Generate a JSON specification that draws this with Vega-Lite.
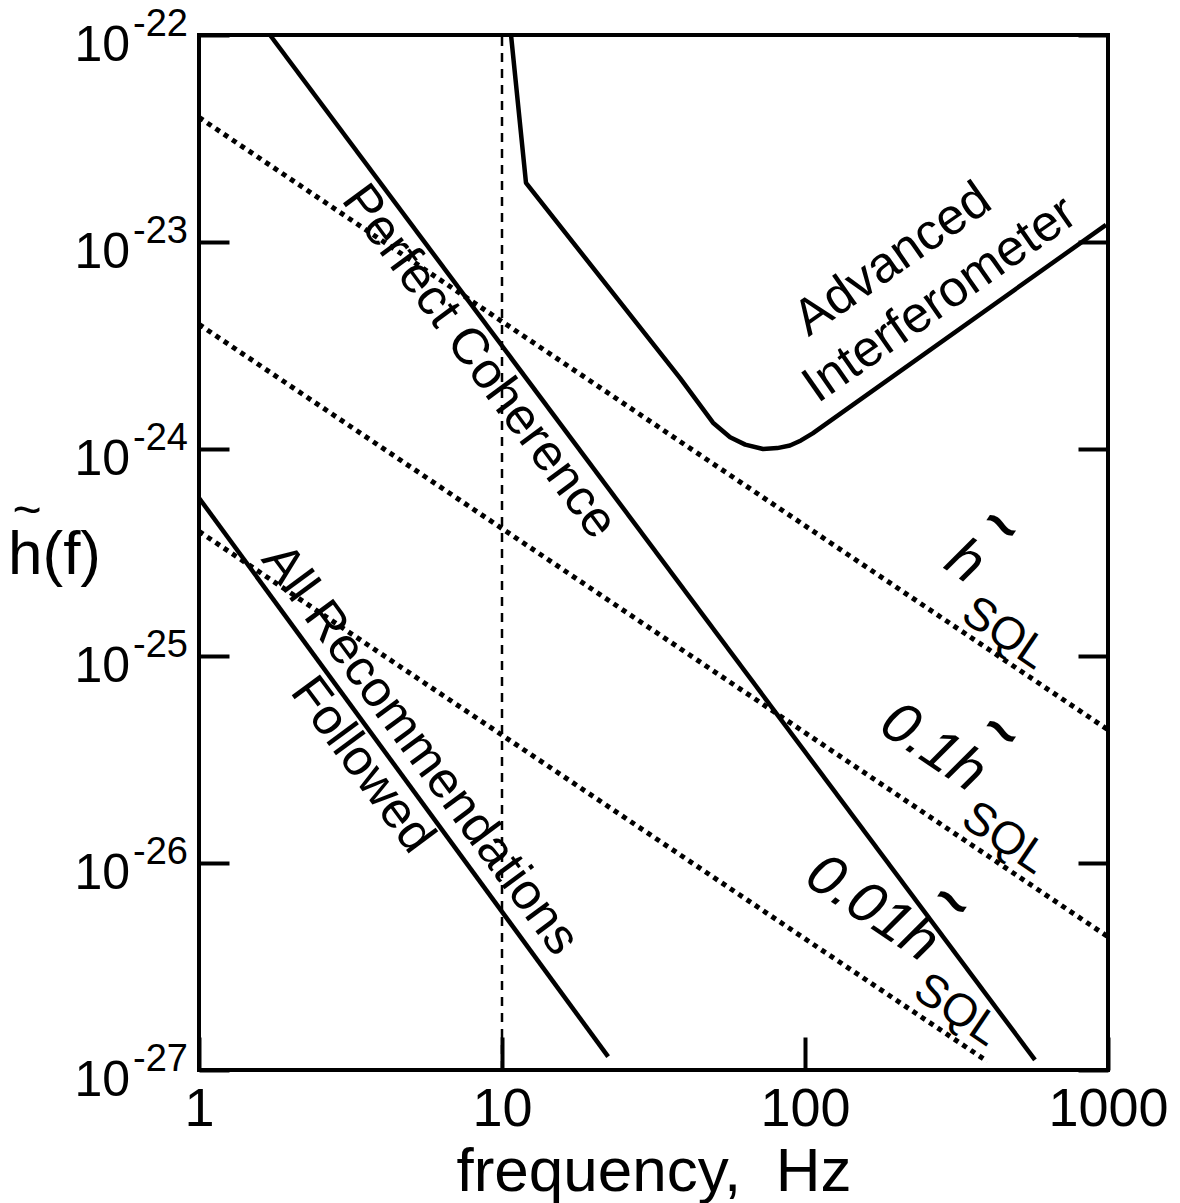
{
  "$schema": "https://vega.github.io/schema/vega-lite/v6.json",
  "width": 909,
  "height": 1035,
  "autosize": {"type": "none"},
  "padding": {"left": 199, "top": 35, "right": 72, "bottom": 133},
  "background": "white",
  "config": {
    "view": {"stroke": "black", "strokeWidth": 4},
    "font": "Liberation Sans",
    "axis": {"grid": false, "domain": false, "tickColor": "black", "tickWidth": 4, "labelColor": "black", "titleColor": "black", "labelFont": "Liberation Sans", "titleFont": "Liberation Sans"}
  },
  "datasets": {
    "solid": [
      {"series": "Advanced", "f": 10.71, "h": 1e-22},
      {"series": "Advanced", "f": 12.0, "h": 1.93e-23},
      {"series": "Advanced", "f": 38.7, "h": 2.2e-24},
      {"series": "Advanced", "f": 49.7, "h": 1.34e-24},
      {"series": "Advanced", "f": 56.6, "h": 1.14e-24},
      {"series": "Advanced", "f": 63.5, "h": 1.05e-24},
      {"series": "Advanced", "f": 72.7, "h": 1.0e-24},
      {"series": "Advanced", "f": 81.0, "h": 1.01e-24},
      {"series": "Advanced", "f": 89.2, "h": 1.04e-24},
      {"series": "Advanced", "f": 97.0, "h": 1.1e-24},
      {"series": "Advanced", "f": 106.0, "h": 1.19e-24},
      {"series": "Advanced", "f": 985.0, "h": 1.21e-23},
      {"series": "Perfect", "f": 1.715, "h": 1e-22},
      {"series": "Perfect", "f": 574.0, "h": 1.12e-27},
      {"series": "AllRec", "f": 1.0, "h": 5.8e-25},
      {"series": "AllRec", "f": 22.4, "h": 1.16e-27}
    ],
    "dotted": [
      {"series": "hSQL", "f": 1.0, "h": 4.0e-23},
      {"series": "hSQL", "f": 1000.0, "h": 4.4e-26},
      {"series": "0.1hSQL", "f": 1.0, "h": 4.0e-24},
      {"series": "0.1hSQL", "f": 1000.0, "h": 4.4e-27},
      {"series": "0.01hSQL", "f": 1.0, "h": 4.0e-25},
      {"series": "0.01hSQL", "f": 400.0, "h": 1.1e-27}
    ],
    "dashed": [
      {"f": 10.0, "h": 1e-27},
      {"f": 10.0, "h": 1e-22}
    ],
    "ylab": [
      {"h": 1e-22, "e": "-22"},
      {"h": 1e-23, "e": "-23"},
      {"h": 1e-24, "e": "-24"},
      {"h": 1e-25, "e": "-25"},
      {"h": 1e-26, "e": "-26"},
      {"h": 1e-27, "e": "-27"}
    ],
    "ytitle": [
      {"h": 1e-24, "label": "~"}
    ],
    "annA": [
      {"label": "Advanced", "f": 195.0, "h": 8.2e-24},
      {"label": "Interferometer", "f": 279.0, "h": 5.25e-24}
    ],
    "annB": [
      {"label": "Perfect Coherence", "f": 8.4, "h": 2.63e-24},
      {"label": "All Recommendations", "f": 5.36, "h": 3.52e-26},
      {"label": "Followed", "f": 3.45, "h": 2.97e-26}
    ],
    "sqlMain": [
      {"label": "h", "f": 337.0, "h": 2.84e-25},
      {"label": "0.1h", "f": 264.5, "h": 3.6e-26},
      {"label": "0.01h", "f": 166.4, "h": 6.0e-27}
    ],
    "sqlTilde": [
      {"label": "~", "f": 440.0, "h": 4.2e-25},
      {"label": "~", "f": 440.0, "h": 4.25e-26},
      {"label": "~", "f": 303.0, "h": 6.4e-27}
    ],
    "sqlSub": [
      {"label": "SQL", "f": 457.0, "h": 1.29e-25},
      {"label": "SQL", "f": 457.0, "h": 1.32e-26},
      {"label": "SQL", "f": 317.5, "h": 1.95e-27}
    ]
  },
  "layer": [
    {
      "data": {"name": "dashed"},
      "mark": {"type": "line", "color": "black", "strokeWidth": 2.5, "strokeDash": [9, 7]},
      "encoding": {
        "x": {
          "field": "f", "type": "quantitative",
          "scale": {"type": "log", "domain": [1, 1000], "nice": false},
          "axis": {
            "orient": "bottom", "values": [1, 10, 100, 1000],
            "labelExpr": "format(datum.value, 'd')",
            "tickSize": -33, "labelFontSize": 54, "labelPadding": 88, "labelBaseline": "alphabetic",
            "labelFlush": false, "labelOverlap": false,
            "title": "frequency,\u00a0 Hz", "titleFontSize": 62, "titleFontWeight": "normal",
            "titleBaseline": "alphabetic", "titleY": 120
          }
        },
        "y": {
          "field": "h", "type": "quantitative",
          "scale": {"type": "log", "domain": [1e-27, 1e-22], "nice": false},
          "axis": {
            "orient": "left", "values": [1e-27, 1e-26, 1e-25, 1e-24, 1e-23, 1e-22],
            "labels": false, "tickSize": -30,
            "title": "h(f)", "titleAngle": 0, "titleFontSize": 62, "titleFontWeight": "normal",
            "titleX": -145, "titleY": 538, "titleAlign": "center", "titleBaseline": "alphabetic"
          }
        }
      }
    },
    {
      "data": {"name": "solid"},
      "mark": {"type": "line", "color": "black", "strokeWidth": 4.5, "strokeJoin": "round"},
      "encoding": {
        "x": {"field": "f", "type": "quantitative", "axis": null},
        "y": {"field": "h", "type": "quantitative", "axis": null},
        "detail": {"field": "series"}
      }
    },
    {
      "data": {"name": "dotted"},
      "mark": {"type": "line", "color": "black", "strokeWidth": 5, "strokeDash": [5, 5], "strokeCap": "butt"},
      "encoding": {
        "x": {"field": "f", "type": "quantitative", "axis": null},
        "y": {
          "field": "h", "type": "quantitative",
          "axis": {"orient": "right", "values": [1e-27, 1e-26, 1e-25, 1e-24, 1e-23, 1e-22], "labels": false, "tickSize": -30, "title": null}
        },
        "detail": {"field": "series"}
      }
    },
    {
      "data": {"name": "ylab"},
      "mark": {"type": "text", "text": "10", "align": "right", "baseline": "alphabetic", "dx": -69, "dy": 26, "fontSize": 50, "color": "black"},
      "encoding": {
        "x": {"datum": 1, "type": "quantitative", "axis": null},
        "y": {"field": "h", "type": "quantitative", "axis": null}
      }
    },
    {
      "data": {"name": "ylab"},
      "mark": {"type": "text", "align": "left", "baseline": "alphabetic", "dx": -66, "dy": 1, "fontSize": 38, "color": "black"},
      "encoding": {
        "x": {"datum": 1, "type": "quantitative", "axis": null},
        "y": {"field": "h", "type": "quantitative", "axis": null},
        "text": {"field": "e"}
      }
    },
    {
      "data": {"name": "ytitle"},
      "mark": {"type": "text", "align": "center", "baseline": "alphabetic", "dx": -172, "dy": 78, "fontSize": 50, "color": "black"},
      "encoding": {
        "x": {"datum": 1, "type": "quantitative", "axis": null},
        "y": {"field": "h", "type": "quantitative", "axis": null},
        "text": {"field": "label"}
      }
    },
    {
      "data": {"name": "annA"},
      "mark": {"type": "text", "align": "center", "baseline": "middle", "angle": -35, "fontSize": 51, "color": "black"},
      "encoding": {
        "x": {"field": "f", "type": "quantitative", "axis": null},
        "y": {"field": "h", "type": "quantitative", "axis": null},
        "text": {"field": "label"}
      }
    },
    {
      "data": {"name": "annB"},
      "mark": {"type": "text", "align": "center", "baseline": "middle", "angle": 53.5, "fontSize": 51, "color": "black"},
      "encoding": {
        "x": {"field": "f", "type": "quantitative", "axis": null},
        "y": {"field": "h", "type": "quantitative", "axis": null},
        "text": {"field": "label"}
      }
    },
    {
      "data": {"name": "sqlMain"},
      "mark": {"type": "text", "align": "center", "baseline": "middle", "angle": 34, "fontSize": 58, "fontStyle": "italic", "color": "black"},
      "encoding": {
        "x": {"field": "f", "type": "quantitative", "axis": null},
        "y": {"field": "h", "type": "quantitative", "axis": null},
        "text": {"field": "label"}
      }
    },
    {
      "data": {"name": "sqlTilde"},
      "mark": {"type": "text", "align": "center", "baseline": "middle", "angle": 34, "fontSize": 60, "fontWeight": "bold", "color": "black"},
      "encoding": {
        "x": {"field": "f", "type": "quantitative", "axis": null},
        "y": {"field": "h", "type": "quantitative", "axis": null},
        "text": {"field": "label"}
      }
    },
    {
      "data": {"name": "sqlSub"},
      "mark": {"type": "text", "align": "center", "baseline": "middle", "angle": 34, "fontSize": 46, "color": "black"},
      "encoding": {
        "x": {"field": "f", "type": "quantitative", "axis": null},
        "y": {"field": "h", "type": "quantitative", "axis": null},
        "text": {"field": "label"}
      }
    }
  ],
  "resolve": {"axis": {"x": "independent", "y": "independent"}}
}
